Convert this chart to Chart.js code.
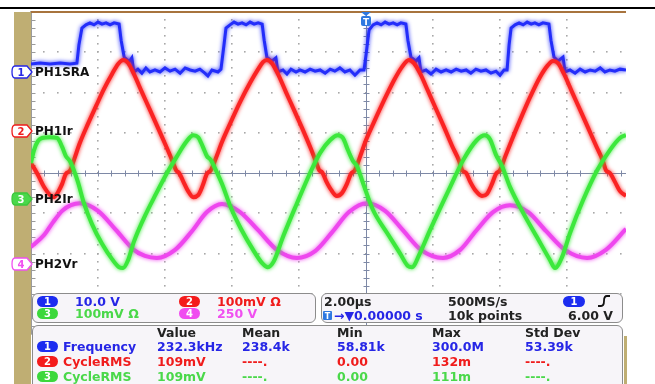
<!DOCTYPE html>
<html lang="en">
  <head>
    <meta charset="utf-8" />
    <script src="https://cdn.jsdelivr.net/npm/chart.js"></script>
    <title>scope</title>
    <style>
      body { margin: 0; background: #fff; }
      #scope {
        position: relative; width: 655px; height: 384px; overflow: hidden; background: #fff;
        font-family: "DejaVu Sans", sans-serif; font-weight: bold; font-size: 12.5px;
      }
      #scope canvas { position: absolute; left: 0; top: 0; }
      .abs { position: absolute; white-space: nowrap; line-height: 14px; }
      .bar { position: absolute; }
      .panel {
        position: absolute; box-sizing: border-box; border: 1px solid #8c8c8c;
        border-radius: 6px; background: #f7f5f9;
      }
      .badge {
        position: absolute; width: 21px; height: 11px; border-radius: 6px; color: #fff;
        font-size: 10px; line-height: 11px; text-align: center;
      }
      .lbl { color: #111; font-size: 12px; }
      .b { color: #2626e6; } .r { color: #f01c1c; } .g { color: #4ad84a; } .m { color: #f050f0; }
      .k { color: #222; }
      .bb { background: #1c2cf0; } .br { background: #f41c1c; } .bg { background: #3cd83c; } .bm { background: #f04cf0; }
      svg { position: absolute; left: 0; top: 0; }
    </style>
  </head>
  <body>
    <div id="scope">
      <canvas id="scopeChart" width="655" height="384"></canvas>

      <div class="bar" style="left:0;top:7px;width:655px;height:2px;background:#000"></div>
      <div class="bar" style="left:14px;top:12px;width:17px;height:372px;background:#bfae73"></div>
      <div class="bar" style="left:31px;top:11px;width:595px;height:1.5px;background:#a8743e"></div>
      <div class="bar" style="left:624px;top:336px;width:3px;height:48px;background:#bfae73"></div>

      <div class="abs lbl" style="left:35px;top:65px">PH1SRA</div>
      <div class="abs lbl" style="left:35px;top:124px">PH1Ir</div>
      <div class="abs lbl" style="left:35px;top:192px">PH2Ir</div>
      <div class="abs lbl" style="left:35px;top:257px">PH2Vr</div>

      <div class="panel" style="left:32px;top:293px;width:284px;height:30px"></div>
      <div class="panel" style="left:321px;top:293px;width:302px;height:30px"></div>
      <div class="panel" style="left:32px;top:325px;width:591px;height:70px"></div>

      <div class="badge bb" style="left:37px;top:296px">1</div>
      <div class="abs b" style="left:75px;top:295px">10.0 V</div>
      <div class="badge bg" style="left:37px;top:308px">3</div>
      <div class="abs g" style="left:75px;top:307px">100mV Ω</div>
      <div class="badge br" style="left:179px;top:296px">2</div>
      <div class="abs r" style="left:217px;top:295px">100mV Ω</div>
      <div class="badge bm" style="left:179px;top:308px">4</div>
      <div class="abs m" style="left:217px;top:307px">250 V</div>

      <div class="abs k" style="left:324px;top:295px">2.00µs</div>
      <div class="abs k" style="left:448px;top:295px">500MS/s</div>
      <div class="badge bb" style="left:563px;top:296px;width:22px">1</div>
      <div class="abs b" style="left:334px;top:309px">→▼0.00000 s</div>
      <div class="abs k" style="left:448px;top:309px">10k points</div>
      <div class="abs k" style="left:568px;top:309px">6.00 V</div>

      <div class="abs k" style="left:157px;top:326px">Value</div>
      <div class="abs k" style="left:242px;top:326px">Mean</div>
      <div class="abs k" style="left:337px;top:326px">Min</div>
      <div class="abs k" style="left:432px;top:326px">Max</div>
      <div class="abs k" style="left:525px;top:326px">Std Dev</div>

      <div class="badge bb" style="left:37px;top:341px">1</div>
      <div class="abs b" style="left:63px;top:340px">Frequency</div>
      <div class="abs b" style="left:157px;top:340px">232.3kHz</div>
      <div class="abs b" style="left:242px;top:340px">238.4k</div>
      <div class="abs b" style="left:337px;top:340px">58.81k</div>
      <div class="abs b" style="left:432px;top:340px">300.0M</div>
      <div class="abs b" style="left:525px;top:340px">53.39k</div>

      <div class="badge br" style="left:37px;top:356px">2</div>
      <div class="abs r" style="left:63px;top:355px">CycleRMS</div>
      <div class="abs r" style="left:157px;top:355px">109mV</div>
      <div class="abs r" style="left:242px;top:355px">----.</div>
      <div class="abs r" style="left:337px;top:355px">0.00</div>
      <div class="abs r" style="left:432px;top:355px">132m</div>
      <div class="abs r" style="left:525px;top:355px">----.</div>

      <div class="badge bg" style="left:37px;top:371px">3</div>
      <div class="abs g" style="left:63px;top:370px">CycleRMS</div>
      <div class="abs g" style="left:157px;top:370px">109mV</div>
      <div class="abs g" style="left:242px;top:370px">----.</div>
      <div class="abs g" style="left:337px;top:370px">0.00</div>
      <div class="abs g" style="left:432px;top:370px">111m</div>
      <div class="abs g" style="left:525px;top:370px">----.</div>

      <svg width="655" height="384">
        <g font-family="DejaVu Sans" font-weight="bold" font-size="10" text-anchor="middle">
          <path d="M15,66 H27 L32,72 L27,78 H15 Q12,78 12,72 Q12,66 15,66 Z" fill="#fff" stroke="#2626e6" stroke-width="1.3" />
          <text x="21" y="76" fill="#2626e6">1</text>
          <path d="M15,125 H27 L32,131 L27,137 H15 Q12,137 12,131 Q12,125 15,125 Z" fill="#fff" stroke="#f01c1c" stroke-width="1.3" />
          <text x="21" y="135" fill="#f01c1c">2</text>
          <path d="M15,193 H27 L32,199 L27,205 H15 Q12,205 12,199 Q12,193 15,193 Z" fill="#4ad84a" stroke="#3cc83c" stroke-width="1.3" />
          <text x="21" y="203" fill="#fff">3</text>
          <path d="M15,258 H27 L32,264 L27,270 H15 Q12,270 12,264 Q12,258 15,258 Z" fill="#fff" stroke="#f050f0" stroke-width="1.3" />
          <text x="21" y="268" fill="#f050f0">4</text>

          <path d="M361,12 L371,12 L366,16 Z" fill="#2e78e0" />
          <rect x="361" y="16" width="10" height="10" rx="2" fill="#2e78e0" />
          <text x="366" y="25" fill="#fff" font-size="9">T</text>

          <rect x="323" y="311" width="9" height="9" rx="1" fill="#2e78e0" />
          <text x="327.5" y="319" fill="#fff" font-size="8">T</text>
        </g>
        <path d="M598,306 H601 Q604,306 604,301 Q604,296 607,296 H610" fill="none" stroke="#111" stroke-width="1.8" />
      </svg>
    </div>

    <script>
      // time in µs (2 µs/div, trigger at 0), amplitude in screen divisions
      const ch1Time = [-10.00, -9.73, -9.43, -9.13, -8.84, -8.63, -8.57, -8.48, -8.36, -8.24, -8.12, -8.00, -7.88, -7.76, -7.64, -7.52, -7.37, -7.31, -7.22, -7.07, -6.99, -6.93, -6.81, -6.69, -6.57, -6.45, -6.30, -6.15, -6.00, -5.85, -5.70, -5.55, -5.40, -5.25, -5.10, -4.96, -4.81, -4.72, -4.60, -4.42, -4.33, -4.24, -4.18, -4.06, -3.94, -3.82, -3.70, -3.58, -3.46, -3.34, -3.22, -3.10, -3.04, -2.96, -2.81, -2.69, -2.63, -2.48, -2.36, -2.24, -2.09, -1.97, -1.82, -1.67, -1.52, -1.37, -1.22, -1.07, -0.93, -0.78, -0.63, -0.48, -0.33, -0.18, -0.06, 0.00, 0.09, 0.21, 0.33, 0.45, 0.57, 0.69, 0.81, 0.93, 1.04, 1.19, 1.25, 1.34, 1.49, 1.58, 1.64, 1.79, 1.94, 2.09, 2.24, 2.39, 2.54, 2.69, 2.84, 2.99, 3.13, 3.28, 3.43, 3.58, 3.73, 3.88, 4.00, 4.12, 4.21, 4.27, 4.33, 4.45, 4.57, 4.69, 4.81, 4.93, 5.04, 5.16, 5.28, 5.46, 5.52, 5.61, 5.73, 5.88, 5.94, 6.09, 6.24, 6.39, 6.54, 6.69, 6.84, 6.99, 7.13, 7.28, 7.43, 7.58, 7.76];
      const ch1Vals = [2.71, 2.73, 2.71, 2.73, 2.71, 2.73, 3.18, 3.60, 3.68, 3.73, 3.68, 3.75, 3.70, 3.73, 3.68, 3.73, 3.70, 3.30, 2.88, 2.76, 2.86, 2.51, 2.58, 2.48, 2.61, 2.51, 2.56, 2.51, 2.61, 2.53, 2.58, 2.48, 2.61, 2.56, 2.53, 2.58, 2.48, 2.41, 2.56, 2.51, 2.58, 3.18, 3.60, 3.68, 3.75, 3.70, 3.73, 3.68, 3.75, 3.70, 3.73, 3.70, 3.30, 2.88, 2.78, 2.86, 2.51, 2.56, 2.46, 2.58, 2.51, 2.56, 2.51, 2.58, 2.53, 2.56, 2.48, 2.58, 2.53, 2.61, 2.51, 2.56, 2.43, 2.56, 2.56, 2.93, 3.55, 3.68, 3.73, 3.68, 3.75, 3.70, 3.73, 3.68, 3.73, 3.70, 3.30, 2.88, 2.78, 2.86, 2.51, 2.56, 2.46, 2.58, 2.51, 2.56, 2.51, 2.58, 2.53, 2.56, 2.48, 2.58, 2.53, 2.56, 2.48, 2.53, 2.43, 2.56, 2.56, 3.18, 3.60, 3.68, 3.73, 3.68, 3.75, 3.70, 3.73, 3.68, 3.73, 3.70, 3.30, 2.88, 2.78, 2.88, 2.51, 2.56, 2.48, 2.58, 2.51, 2.56, 2.53, 2.61, 2.51, 2.56, 2.53, 2.58, 2.56];

      const ch2Time = [-10.00, -9.79, -9.61, -9.43, -9.31, -9.19, -9.07, -8.96, -8.84, -8.72, -8.54, -8.30, -8.06, -7.82, -7.58, -7.40, -7.25, -7.10, -6.93, -6.69, -6.45, -6.21, -5.97, -5.79, -5.67, -5.58, -5.46, -5.31, -5.16, -5.01, -4.87, -4.75, -4.63, -4.48, -4.30, -4.06, -3.76, -3.46, -3.22, -3.07, -2.96, -2.81, -2.63, -2.39, -2.15, -1.91, -1.67, -1.49, -1.40, -1.31, -1.19, -1.04, -0.87, -0.72, -0.57, -0.45, -0.33, -0.18, 0.00, 0.24, 0.54, 0.84, 1.07, 1.28, 1.43, 1.61, 1.85, 2.09, 2.33, 2.57, 2.78, 2.87, 2.99, 3.10, 3.28, 3.46, 3.61, 3.76, 3.88, 4.00, 4.15, 4.36, 4.60, 4.90, 5.19, 5.43, 5.58, 5.73, 5.91, 6.15, 6.39, 6.63, 6.87, 7.07, 7.16, 7.28, 7.43, 7.58, 7.76];
      const ch2Vals = [0.25, -0.05, -0.35, -0.55, -0.60, -0.47, -0.27, -0.02, 0.05, 0.32, 0.75, 1.22, 1.66, 2.09, 2.46, 2.71, 2.81, 2.73, 2.46, 2.01, 1.57, 1.12, 0.67, 0.32, 0.07, 0.00, -0.20, -0.45, -0.60, -0.55, -0.30, -0.02, 0.07, 0.37, 0.77, 1.22, 1.76, 2.24, 2.58, 2.76, 2.81, 2.73, 2.46, 2.01, 1.57, 1.12, 0.65, 0.27, 0.07, 0.02, -0.20, -0.42, -0.57, -0.50, -0.27, -0.02, 0.07, 0.40, 0.82, 1.27, 1.81, 2.31, 2.63, 2.81, 2.73, 2.48, 2.04, 1.59, 1.14, 0.67, 0.30, 0.07, 0.00, -0.20, -0.45, -0.57, -0.52, -0.27, -0.02, 0.07, 0.40, 0.84, 1.32, 1.89, 2.38, 2.68, 2.78, 2.73, 2.46, 2.01, 1.57, 1.12, 0.67, 0.30, 0.07, 0.00, -0.22, -0.45, -0.57];

      const ch3Time = [-10.00, -9.91, -9.79, -9.67, -9.43, -9.22, -9.07, -8.96, -8.84, -8.72, -8.60, -8.42, -8.18, -7.88, -7.58, -7.37, -7.25, -7.10, -6.93, -6.63, -6.27, -5.94, -5.64, -5.37, -5.16, -5.01, -4.87, -4.75, -4.63, -4.51, -4.30, -4.03, -3.73, -3.37, -3.10, -2.93, -2.75, -2.48, -2.06, -1.67, -1.37, -1.07, -0.84, -0.69, -0.54, -0.39, -0.27, -0.09, 0.21, 0.63, 1.01, 1.25, 1.37, 1.61, 1.91, 2.51, 2.90, 3.31, 3.55, 3.70, 3.88, 4.06, 4.30, 4.69, 5.10, 5.49, 5.64, 5.85, 6.09, 6.48, 6.90, 7.28, 7.58, 7.76];
      const ch3Vals = [0.25, 0.57, 0.80, 0.87, 0.89, 0.87, 0.65, 0.42, 0.30, 0.07, -0.22, -0.75, -1.27, -1.76, -2.14, -2.34, -2.36, -2.16, -1.71, -1.12, -0.52, 0.00, 0.42, 0.77, 0.94, 0.89, 0.65, 0.42, 0.32, 0.12, -0.27, -0.87, -1.39, -1.91, -2.24, -2.34, -2.19, -1.59, -0.75, 0.00, 0.50, 0.82, 0.94, 0.87, 0.57, 0.30, 0.17, -0.25, -0.92, -1.49, -1.99, -2.31, -2.34, -1.99, -1.42, -0.35, 0.32, 0.82, 0.94, 0.84, 0.45, 0.17, -0.35, -0.99, -1.59, -2.16, -2.36, -2.09, -1.49, -0.67, 0.07, 0.57, 0.87, 0.94];

      const ch4Time = [-10.00, -9.61, -9.34, -9.07, -8.81, -8.54, -8.00, -7.46, -6.93, -6.60, -6.24, -5.70, -5.19, -4.75, -4.30, -3.76, -3.22, -2.66, -2.06, -1.52, -1.01, -0.51, 0.03, 0.57, 1.10, 1.64, 2.30, 2.81, 3.28, 3.79, 4.30, 4.84, 5.37, 5.94, 6.60, 7.16, 7.76];
      const ch4Vals = [-1.84, -1.54, -1.22, -0.94, -0.80, -0.75, -0.94, -1.42, -1.91, -2.06, -2.11, -1.91, -1.44, -0.97, -0.77, -0.97, -1.42, -1.91, -2.11, -1.94, -1.47, -0.97, -0.75, -0.94, -1.42, -1.91, -2.11, -1.91, -1.44, -0.97, -0.80, -0.97, -1.44, -1.91, -2.11, -1.91, -1.39];

      const timeTicks = [-10, -8, -6, -4, -2, 0, 2, 4, 6];
      const divTicks = [-4, -3, -2, -1, 0, 1, 2, 3, 4];

      const toPoints = (ts, vs) => ts.map((t, i) => ({ x: t, y: vs[i] }));

      // dotted graticule, centre cross and edge ticks
      const scopeGrid = {
        id: "scopeGrid",
        beforeDatasetsDraw(chart) {
          const { ctx, chartArea: a, scales } = chart;
          const x = scales.x, y = scales.y;
          ctx.save();
          ctx.fillStyle = "#a8a8a8";
          timeTicks.forEach((t) => {
            const px = Math.round(x.getPixelForValue(t));
            if (t === 0 || t === -10) return;
            for (let k = 0; k <= 40; k++) {
              const py = Math.round(y.getPixelForValue(-4 + k * 0.2));
              ctx.fillRect(px - 1, py - 1, 1.6, 1.6);
            }
          });
          divTicks.forEach((d) => {
            if (d === 0) return;
            const py = Math.round(y.getPixelForValue(d));
            for (let k = 0; k <= 50; k++) {
              const px = Math.round(x.getPixelForValue(-10 + k * 0.4));
              if (px > a.right) break;
              ctx.fillRect(px - 1, py - 1, 1.6, 1.6);
            }
          });
          const cx = Math.round(x.getPixelForValue(0)) + 0.5;
          const cy = Math.round(y.getPixelForValue(0)) + 0.5;
          ctx.strokeStyle = "#7e89a6";
          ctx.lineWidth = 1;
          ctx.beginPath();
          ctx.moveTo(a.left, cy); ctx.lineTo(a.right, cy);
          ctx.moveTo(cx, a.top); ctx.lineTo(cx, a.bottom);
          for (let k = 0; k <= 50; k++) {
            const px = Math.round(x.getPixelForValue(-10 + k * 0.4)) + 0.5;
            if (px > a.right) break;
            ctx.moveTo(px, cy - 3); ctx.lineTo(px, cy + 3);
          }
          for (let k = 0; k <= 40; k++) {
            const py = Math.round(y.getPixelForValue(-4 + k * 0.2)) + 0.5;
            ctx.moveTo(cx - 3, py); ctx.lineTo(cx + 3, py);
          }
          ctx.stroke();
          const lx = Math.round(a.left) + 0.5;
          ctx.strokeStyle = "#9a9a9a";
          ctx.beginPath();
          ctx.moveTo(lx, a.top); ctx.lineTo(lx, a.bottom);
          for (let k = 0; k <= 40; k++) {
            const py = Math.round(y.getPixelForValue(-4 + k * 0.2)) + 0.5;
            ctx.moveTo(lx, py); ctx.lineTo(lx + 4, py);
          }
          ctx.stroke();
          ctx.restore();
        },
      };

      // soft phosphor glow on traces
      const glow = {
        id: "glow",
        beforeDatasetDraw(chart, args) {
          const ctx = chart.ctx;
          ctx.save();
          ctx.shadowColor = args.meta.dataset.options.borderColor;
          ctx.shadowBlur = 4;
        },
        afterDatasetDraw(chart) {
          chart.ctx.restore();
        },
      };

      const scopeChart = new Chart(document.getElementById("scopeChart"), {
        type: "line",
        data: {
          datasets: [
            {
              label: "PH2Ir",
              data: toPoints(ch3Time, ch3Vals),
              borderColor: "rgb(60,232,60)",
              borderWidth: 4,
              cubicInterpolationMode: "monotone",
            },
            {
              label: "PH1Ir",
              data: toPoints(ch2Time, ch2Vals),
              borderColor: "rgb(250,35,35)",
              borderWidth: 4,
              cubicInterpolationMode: "monotone",
            },
            {
              label: "PH2Vr",
              data: toPoints(ch4Time, ch4Vals),
              borderColor: "rgb(238,70,238)",
              borderWidth: 4,
              cubicInterpolationMode: "monotone",
            },
            {
              label: "PH1SRA",
              data: toPoints(ch1Time, ch1Vals),
              borderColor: "rgb(35,45,250)",
              borderWidth: 3,
              tension: 0,
            },
          ],
        },
        options: {
          responsive: false,
          animation: false,
          events: [],
          layout: { padding: { left: 31, right: 29, top: 12, bottom: 50 } },
          elements: { point: { radius: 0 } },
          scales: {
            x: { type: "linear", min: -10, max: 7.76, display: false },
            y: { type: "linear", min: -4, max: 4, display: false },
          },
          plugins: { legend: { display: false }, tooltip: { enabled: false } },
        },
        plugins: [scopeGrid, glow],
      });
    </script>
  </body>
</html>
